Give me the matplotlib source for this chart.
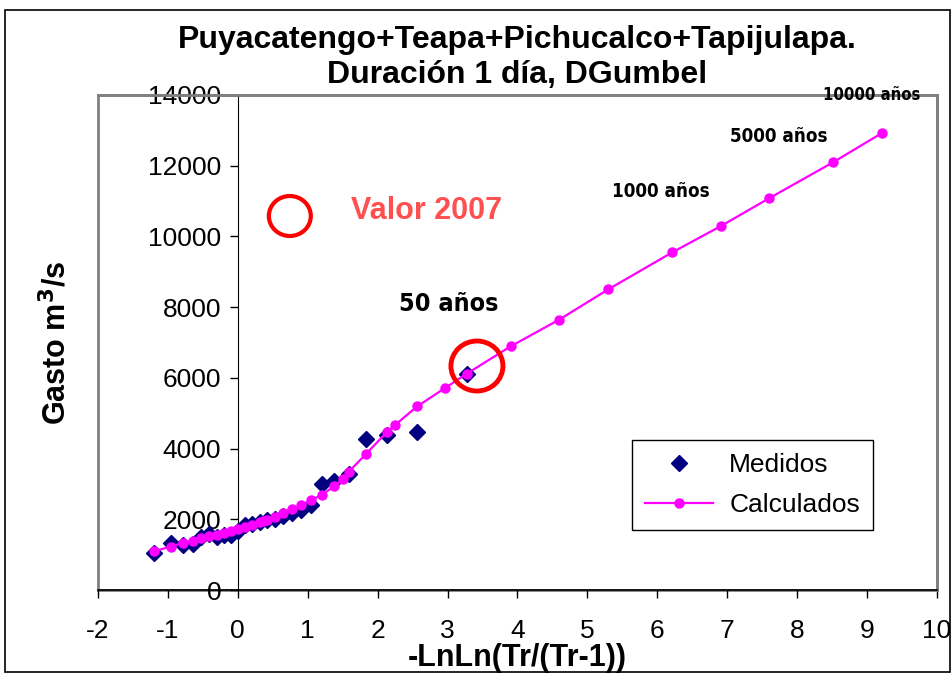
import matplotlib
matplotlib.use("Agg")
import matplotlib.pyplot as plt
from matplotlib.patches import Ellipse, Rectangle

plt.rcParams['font.family'] = ['Liberation Sans', 'DejaVu Sans']
plt.rcParams['axes.unicode_minus'] = False

# Measured data (Gumbel plotting positions, -LnLn(Tr/(Tr-1)))
x_med = [3.277, 2.564, 2.139, 1.830, 1.586, 1.381, 1.204, 1.046, 0.903, 0.771,
         0.648, 0.531, 0.420, 0.313, 0.209, 0.108, 0.007, -0.094, -0.196, -0.300,
         -0.408, -0.523, -0.647, -0.787, -0.957, -1.193]
y_med = [6110, 4460, 4370, 4270, 3280, 3080, 2990, 2410, 2260, 2170,
         2080, 2000, 1990, 1920, 1880, 1830, 1680, 1560, 1560, 1510,
         1580, 1500, 1300, 1260, 1320, 1050]

# Calculated (double Gumbel) curve
x_calc = [-1.193, -0.957, -0.787, -0.647, -0.523, -0.408, -0.300, -0.196, -0.094, 0.007,
          0.108, 0.209, 0.313, 0.367, 0.420, 0.531, 0.648, 0.771, 0.903, 1.046,
          1.204, 1.381, 1.500, 1.586, 1.830, 2.139, 2.250, 2.564, 2.970, 3.277,
          3.902, 4.600, 5.296, 6.214, 6.907, 7.600, 8.517, 9.210]
y_calc = [1100, 1230, 1330, 1400, 1460, 1520, 1570, 1620, 1680, 1730,
          1790, 1850, 1910, 1940, 1980, 2070, 2180, 2280, 2400, 2540,
          2690, 2940, 3130, 3340, 3840, 4480, 4670, 5190, 5720, 6120,
          6890, 7650, 8500, 9550, 10290, 11080, 12100, 12920]

x_ticks = list(range(-2, 11))
y_ticks = list(range(0, 14001, 2000))

fig = plt.figure(figsize=(9.53, 6.75), dpi=100)
ax = fig.add_axes([0.1028, 0.1259, 0.8804, 0.7334])

ax.plot(x_med, y_med, linestyle='none', marker='D', color='#000080',
        markersize=8.5, label='Medidos', zorder=3)
ax.plot(x_calc, y_calc, color='#FF00FF', linewidth=1.6, marker='o',
        markersize=6.5, label='Calculados', zorder=4)

ax.set_xlim(-2, 10)
ax.set_ylim(0, 14000)
ax.set_xticks(x_ticks)
ax.set_yticks(y_ticks)
ax.tick_params(axis='both', labelsize=19, direction='out', length=6, width=1)
ax.tick_params(axis='x', pad=15)
ax.tick_params(axis='y', pad=6)

for s in ['top', 'right']:
    ax.spines[s].set_color('#808080')
    ax.spines[s].set_linewidth(2)
ax.spines['left'].set_position(('data', 0))
ax.spines['left'].set_color('black')
ax.spines['bottom'].set_color('black')
ax.spines['bottom'].set_linewidth(1.2)
ax.add_patch(Rectangle((0, 0), 1, 1, transform=ax.transAxes, fill=False,
                       edgecolor='#808080', linewidth=2, zorder=0, clip_on=False))

ax.set_xlabel('-LnLn(Tr/(Tr-1))', fontsize=22, fontweight='bold', labelpad=0)
ax.set_ylabel('Gasto m$^\\mathbf{3}$/s', fontsize=22, fontweight='bold')
ax.yaxis.set_label_coords(-0.030, 0.5, transform=ax.transAxes)

fig.text(0.543, 0.941, 'Puyacatengo+Teapa+Pichucalco+Tapijulapa.', ha='center', va='center',
         fontsize=23, fontweight='bold')
fig.text(0.543, 0.889, 'Duración 1 día, DGumbel', ha='center', va='center',
         fontsize=23, fontweight='bold')

cond = dict(family=['DejaVu Sans'], stretch='condensed')
ax.text(2.70, 10718, 'Valor 2007', color='#FF5050', fontsize=22, fontweight='bold',
        ha='center', va='center')
ax.text(3.02, 8088, '50 años', color='black', fontsize=18, fontweight='bold',
        ha='center', va='center', **cond)
ax.text(6.05, 11284, '1000 años', color='black', fontsize=13.5, fontweight='bold',
        ha='center', va='center', **cond)
ax.text(7.73, 12839, '5000 años', color='black', fontsize=13.5, fontweight='bold',
        ha='center', va='center', **cond)
ax.text(9.07, 14000, '10000 años', color='black', fontsize=12, fontweight='bold',
        ha='center', va='center', clip_on=False, zorder=6, **cond)

ax.add_patch(Ellipse((0.744, 10577), 0.60, 1131, fill=False, edgecolor='red',
                     linewidth=3, zorder=5))
ax.add_patch(Ellipse((3.42, 6335), 0.744, 1414, fill=False, edgecolor='red',
                     linewidth=3.5, zorder=5))

leg = ax.legend(loc='upper left', bbox_to_anchor=(0.636, 0.303), fontsize=19,
                frameon=True, fancybox=False, edgecolor='black', framealpha=1,
                borderpad=0.5, labelspacing=0.6, handlelength=2.6, handletextpad=0.6,
                borderaxespad=0)
leg.get_frame().set_linewidth(1)

fig.add_artist(Rectangle((5 / 953, 3 / 675), 945 / 953, 662 / 675, transform=fig.transFigure,
                         fill=False, edgecolor='black', linewidth=1.2))

fig.savefig('out.png', dpi=100)
